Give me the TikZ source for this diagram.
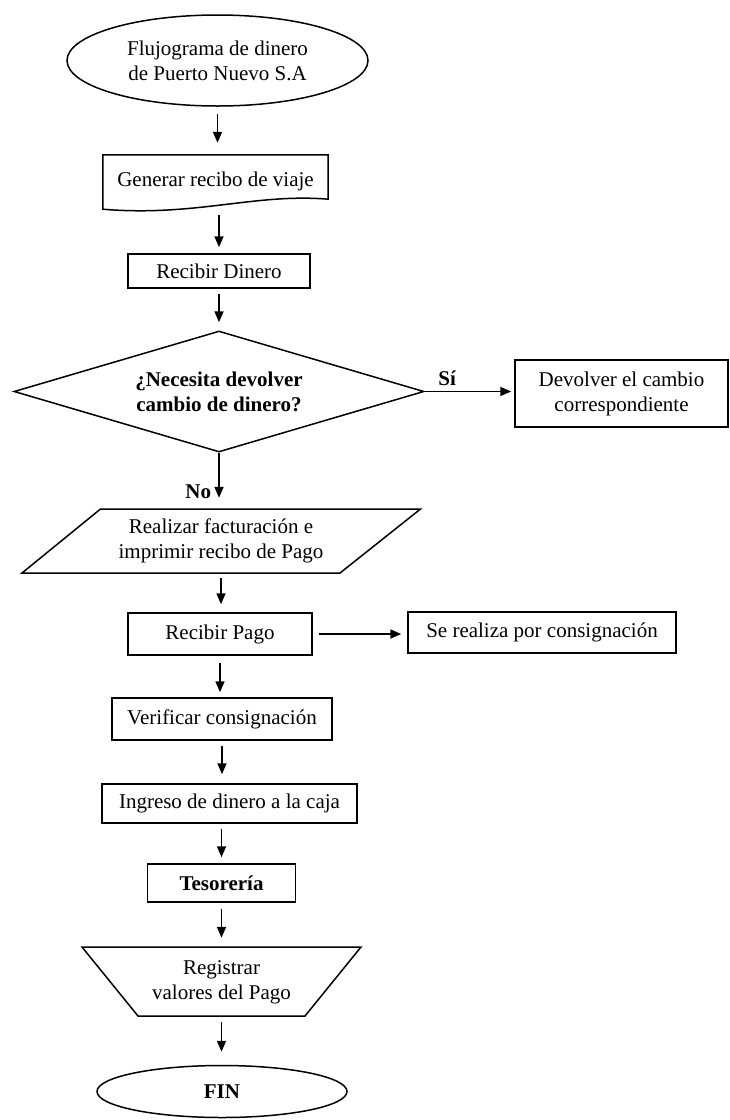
\documentclass[tikz,border=0pt]{standalone}
\usepackage{fontspec}
\setmainfont{Liberation Serif}
\usetikzlibrary{shapes.geometric,arrows.meta}
\begin{document}
\begin{tikzpicture}[x=1pt,y=-1pt,
  every node/.style={font=\fontsize{21}{25}\selectfont, inner sep=0pt, align=center},
  boldtxt/.style={font=\fontsize{21}{25}\selectfont\bfseries},
  outline/.style={draw, line width=1.5pt, line join=miter},
  proc/.style={outline, rectangle},
  term/.style={outline, ellipse},
  decision/.style={outline, diamond, aspect=3.36},
  flow/.style={line width=1.7pt, -{Triangle[length=11pt,width=9pt]}, shorten <=6pt, shorten >=8pt}]
\useasboundingbox (0,0) rectangle (730,1120);

% process steps
\node[term, minimum width=301pt, minimum height=91pt] (start) at (217.5,60.5)
  {Flujograma de dinero\\de Puerto Nuevo S.A};

\node[minimum width=225pt, minimum height=54pt] (doc) at (215.5,182)
  {\raisebox{5pt}{Generar recibo de viaje}};
\draw[outline] (doc.north west) -- (doc.north east) -- ([yshift=10pt]doc.south east)
  .. controls (255,193) and (195,217) .. (doc.south west) -- cycle;

\node[proc, minimum width=182pt, minimum height=34pt] (rd) at (219,271) {Recibir Dinero};

\node[decision, boldtxt, minimum width=410pt, minimum height=121pt] (dia) at (219,391.5)
  {¿Necesita devolver\\cambio de dinero?};

\node[proc, minimum width=213pt, minimum height=67pt] (dev) at (621.5,393.5)
  {Devolver el cambio\\correspondiente};

\node[minimum width=320pt, minimum height=64pt] (par) at (221,541)
  {Realizar facturación e\\imprimir recibo de Pago};
\draw[outline] (100.5,509) -- (420.5,509) -- (340,573) -- (22,573) -- cycle;

\node[proc, minimum width=184pt, minimum height=42pt] (rp) at (220,634) {Recibir Pago};
\node[proc, minimum width=268pt, minimum height=41pt] (sr) at (542,632.5) {Se realiza por consignación};

\node[proc, minimum width=220pt, minimum height=42pt] (ver) at (222,719) {Verificar consignación};
\node[proc, minimum width=255pt, minimum height=39pt] (ing) at (229.5,803.5) {Ingreso de dinero a la caja};
\node[proc, boldtxt, minimum width=148pt, minimum height=38pt] (tes) at (221.5,883) {Tesorería};

\node[minimum width=280pt, minimum height=69pt] (trap) at (221.5,981.5)
  {\raisebox{5pt}{\begin{tabular}{@{}c@{}}Registrar\\valores del Pago\end{tabular}}};
\draw[outline] (82,947) -- (361,947) -- (305,1016) -- (138,1016) -- cycle;

\node[term, boldtxt, minimum width=250pt, minimum height=52pt] (fin) at (222,1091.5) {FIN};

% connectors
\draw[flow, shorten <=7pt, shorten >=12pt] (start.south) -- (start.south |- doc.north);
\draw[flow, shorten >=6pt] (rd.north |- doc.south) -- (rd.north);
\draw[flow, shorten <=5pt] (rd.south) -- (rd.south |- dia.north);
\draw[flow, shorten <=0pt, shorten >=3pt] (dia.east) -- (dia.east -| dev.west)
  node[pos=0.25, above=5pt, boldtxt] (si) {Sí};
\draw[flow, shorten <=0pt, shorten >=11pt] (dia.south) -- (dia.south |- par.north)
  node[pos=0.7, left=7pt, boldtxt] (no) {No};
\draw[flow, shorten <=5pt] (par.south) -- (par.south |- rp.north);
\draw[flow, shorten <=6pt, shorten >=6pt] (rp.east) -- (rp.east -| sr.west);
\draw[flow, shorten <=7pt, shorten >=5pt] (rp.south) -- (rp.south |- ver.north);
\draw[flow, shorten <=5pt, shorten >=9pt] (ver.south) -- (ver.south |- ing.north);
\draw[flow, shorten <=5pt, shorten >=6pt] (tes.north |- ing.south) -- (tes.north);
\draw[flow, shorten <=6pt, shorten >=9pt] (tes.south) -- (tes.south |- trap.north);
\draw[flow, shorten <=6pt, shorten >=13pt] (trap.south) -- (trap.south |- fin.north);
\end{tikzpicture}
\end{document}
